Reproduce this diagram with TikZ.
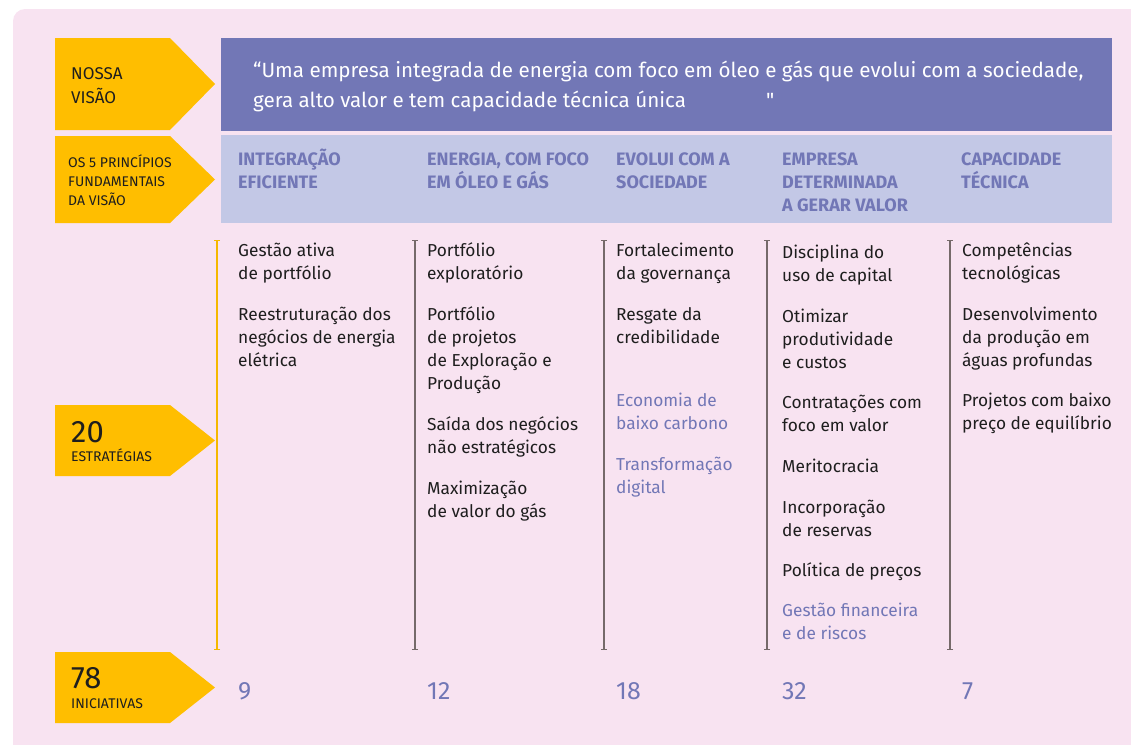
\documentclass[tikz,border=0pt]{standalone}
\usepackage{fontspec}
\setmainfont{Fira Sans}
\newfontfamily\plainfira{Fira Sans}
\usetikzlibrary{arrows.meta}
\definecolor{blush}{HTML}{F8E3F1}
\definecolor{visao}{HTML}{7277B6}
\definecolor{lilac}{HTML}{7277B6}
\definecolor{haze}{HTML}{C3C8E6}
\definecolor{amber}{HTML}{FFBE00}
\definecolor{ink}{HTML}{1E1E1E}
\definecolor{stem}{HTML}{766A6A}
\definecolor{stemy}{HTML}{F5B800}
\begin{document}
% nodes with several lines sit on the baseline of their last line
\begin{tikzpicture}[x=1pt,y=-1pt,
	item/.style={anchor=base west,align=left,inner sep=0pt,text=ink,font=\fontsize{17.3}{23}\selectfont},
	soft/.style={item,text=lilac},
	head/.style={anchor=base west,align=left,inner sep=0pt,text=lilac,font=\bfseries\fontsize{18}{23}\selectfont},
	tagbig/.style={anchor=base west,inner sep=0pt,text=ink,font=\fontsize{31}{31}\selectfont},
	tagsmall/.style={anchor=base west,align=left,inner sep=0pt,text=ink,font=\fontsize{14}{19}\selectfont},
	count/.style={anchor=base west,inner sep=0pt,text=lilac,font=\fontsize{25}{25}\selectfont},
	stemline/.style={line width=1.3pt,{Bar[width=6pt]}-{Bar[width=6pt]}}]
	\useasboundingbox (0,0) rectangle (1131,744);
	\fill[blush,rounded corners=12pt] (13,9) rectangle (1150,760);
	% faixas da visao e dos principios
	\fill[visao] (221,38) rectangle (1112,131);
	\fill[haze] (221,135) rectangle (1112,223);
	% setas amarelas
	\foreach \t/\b in {38/130,136/223,405/476,652/723}
		\fill[amber] (55,\t) -- (170,\t) -- (215,{(\t+\b)/2}) -- (170,\b) -- (55,\b) -- cycle;
	\node[anchor=base west,align=left,inner sep=0pt,text=ink,font=\fontsize{17}{24}\selectfont] (nossa) at (71,103) {NOSSA\\VISÃO};
	\node[tagsmall] (princ) at (68,205) {OS 5 PRINCÍPIOS\\FUNDAMENTAIS\\DA VISÃO};
	\node[tagbig] (n20) at (71,442) {20};
	\node[tagsmall] (estr) at (71,461) {ESTRATÉGIAS};
	\node[tagbig] (n78) at (71,688) {78};
	\node[tagsmall] (inic) at (71,708) {INICIATIVAS};
	% visao
	\node[anchor=base west,align=left,inner sep=0pt,text=white,font=\fontsize{20.6}{30}\selectfont] (frase) at (253,107)
		{“Uma empresa integrada de energia com foco em óleo e gás que evolui com a sociedade,\\gera alto valor e tem capacidade técnica única};
	\node[anchor=base west,inner sep=0pt,text=white,font=\plainfira\fontsize{20.6}{30}\selectfont] (fecha) at (766,107) {"};
	% principios
	\node[head] (p1) at (238,188) {INTEGRAÇÃO\\EFICIENTE};
	\node[head] (p2) at (427,188) {ENERGIA, COM FOCO\\EM ÓLEO E GÁS};
	\node[head] (p3) at (616,188) {EVOLUI COM A\\SOCIEDADE};
	\node[head] (p4) at (782,211) {EMPRESA\\DETERMINADA\\A GERAR VALOR};
	\node[head] (p5) at (961,188) {CAPACIDADE\\TÉCNICA};
	% hastes das colunas
	\draw[stemline,stemy] (217,240) -- (217,650);
	\foreach \x in {415,604,767,950}
		\draw[stemline,stem] (\x,240) -- (\x,650);
	% estrategias
	\node[item] (e11) at (238,279) {Gestão ativa\\de portfólio};
	\node[item] (e12) at (238,366) {Reestruturação dos\\negócios de energia\\elétrica};
	\node[item] (e21) at (427,279) {Portfólio\\exploratório};
	\node[item] (e22) at (427,389) {Portfólio\\de projetos\\de Exploração e\\Produção};
	\node[item] (e23) at (427,453) {Saída dos negócios\\não estratégicos};
	\node[item] (e24) at (427,517) {Maximização\\de valor do gás};
	\node[item] (e31) at (616,279) {Fortalecimento\\da governança};
	\node[item] (e32) at (616,343) {Resgate da\\credibilidade};
	\node[soft] (e33) at (616,429) {Economia de\\baixo carbono};
	\node[soft] (e34) at (616,493) {Transformação\\digital};
	\node[item] (e41) at (782,281) {Disciplina do\\uso de capital};
	\node[item] (e42) at (782,368) {Otimizar\\produtividade\\e custos};
	\node[item] (e43) at (782,431) {Contratações com\\foco em valor};
	\node[item] (e44) at (782,472) {Meritocracia};
	\node[item] (e45) at (782,536) {Incorporação\\de reservas};
	\node[item] (e46) at (782,576) {Política de preços};
	\node[soft] (e47) at (782,639) {Gestão financeira\\e de riscos};
	\node[item] (e51) at (962,279) {Competências\\tecnológicas};
	\node[item] (e52) at (962,366) {Desenvolvimento\\da produção em\\águas profundas};
	\node[item] (e53) at (962,429) {Projetos com baixo\\preço de equilíbrio};
	% iniciativas
	\node[count] (i1) at (238,699) {9};
	\node[count] (i2) at (427,699) {12};
	\node[count] (i3) at (616,699) {18};
	\node[count] (i4) at (782,699) {32};
	\node[count] (i5) at (962,699) {7};
\end{tikzpicture}
\end{document}
